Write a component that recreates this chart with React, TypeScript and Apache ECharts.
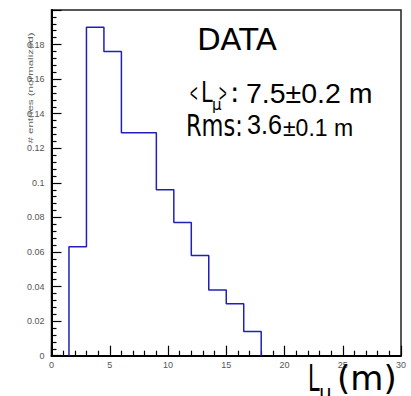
import React, { useEffect, useRef } from "react";
import * as echarts from "echarts";

// Histogram bins (metres) and normalized entries
const binEdges = [1.5, 3, 4.5, 6, 7.5, 9, 10.5, 12, 13.5, 15, 16.5, 18];
const binValues = [0.063, 0.19, 0.176, 0.129, 0.129, 0.096, 0.077, 0.058, 0.038, 0.03, 0.014];
const xTickLabels = ["0", "5", "10", "15", "20", "25", "30"];
const yName = "# entries (normalized)";

const tickFont = "'Liberation Sans Narrow', 'Liberation Sans', Arial, sans-serif";
const handFont = "'DejaVu Sans', 'Noto Sans', sans-serif";
const numFont = "'Liberation Sans', Arial, sans-serif";

export default function App() {
  const ref = useRef<HTMLDivElement>(null);
  useEffect(() => {
    if (!ref.current) return;
    const chart = echarts.init(ref.current, undefined, { renderer: "svg" });
    const stepData: number[][] = [[binEdges[0], 0]];
    binValues.forEach((v, i) => {
      stepData.push([binEdges[i], v]);
      stepData.push([binEdges[i + 1], v]);
    });
    stepData.push([binEdges[binEdges.length - 1], 0]);

    const txt = (text: string, x: number, y: number, fontSize: number, fontFamily: string, extra: any = {}) => ({
      type: "text",
      x,
      y,
      z: 100,
      ...extra,
      style: {
        text,
        fill: extra.fill || "#000",
        fontSize,
        fontFamily,
        align: extra.align || "left",
        verticalAlign: "middle",
      },
    });

    chart.setOption({
      animation: false,
      backgroundColor: "#fff",
      grid: {
        left: 51.5,
        top: 10,
        width: 349.5,
        height: 345.7,
        show: true,
        borderColor: "#222",
        borderWidth: 1.5,
      },
      xAxis: {
        type: "value",
        min: 0,
        max: 30,
        interval: 5,
        axisLine: { show: true, onZero: false, lineStyle: { color: "#000", width: 2 } },
        axisTick: { show: true, inside: true, length: 10, lineStyle: { color: "#000", width: 1.2 } },
        minorTick: { show: true, splitNumber: 5, length: 5, lineStyle: { color: "#000", width: 1.2 } },
        splitLine: { show: false },
        axisLabel: {
          color: "#555",
          fontSize: 9,
          fontFamily: tickFont,
          margin: 5,
          formatter: (v: number) => xTickLabels[Math.round(v / 5)] ?? "",
        },
      },
      yAxis: {
        type: "value",
        min: 0,
        max: 0.2,
        interval: 0.02,
        axisLine: { show: true, onZero: false, lineStyle: { color: "#000", width: 2 } },
        axisTick: { show: true, inside: true, length: 10, lineStyle: { color: "#000", width: 1.2 } },
        minorTick: { show: true, splitNumber: 5, length: 5, lineStyle: { color: "#000", width: 1.2 } },
        splitLine: { show: false },
        axisLabel: {
          color: "#555",
          fontSize: 9,
          fontFamily: tickFont,
          margin: 7,
          showMaxLabel: false,
          formatter: (v: number) => (v === 0 ? "0" : String(Math.round(v * 100) / 100)),
        },
      },
      series: [
        {
          type: "line",
          data: stepData,
          showSymbol: false,
          symbol: "none",
          lineStyle: { color: "#2020b8", width: 1.5 },
          z: 5,
        },
      ],
      graphic: [
        txt(yName, 30, 88, 11.5, numFont, { rotation: Math.PI / 2, scaleY: 0.6, align: "center", fill: "#666" }),
        txt("DATA", 197, 39.3, 31, handFont),
        txt("<", 190, 93, 26, numFont, { scaleX: 0.5 }),
        txt("L", 201, 92.5, 28, handFont, { scaleX: 0.75 }),
        txt("μ", 212, 104.8, 15, handFont),
        txt(">", 219, 93, 26, numFont, { scaleX: 0.5 }),
        txt(":", 230, 92.5, 28, handFont),
        txt("7.5±0.2 m", 246, 92.5, 28.5, numFont),
        txt("Rms:", 186, 125, 30, handFont, { scaleX: 0.75 }),
        txt("3.6", 247, 125, 28, numFont, { scaleX: 0.9 }),
        txt("±0.1 m", 283, 127.5, 23, numFont),
        txt("L", 308, 378, 38, handFont, { scaleX: 0.55 }),
        txt("μ", 319, 392, 20, handFont),
        txt("(m)", 337, 377.5, 34, handFont),
      ],
    });
    return () => chart.dispose();
  }, []);
  return <div ref={ref} style={{ position: "absolute", left: 0, top: 0, width: 411, height: 396 }} />;
}
